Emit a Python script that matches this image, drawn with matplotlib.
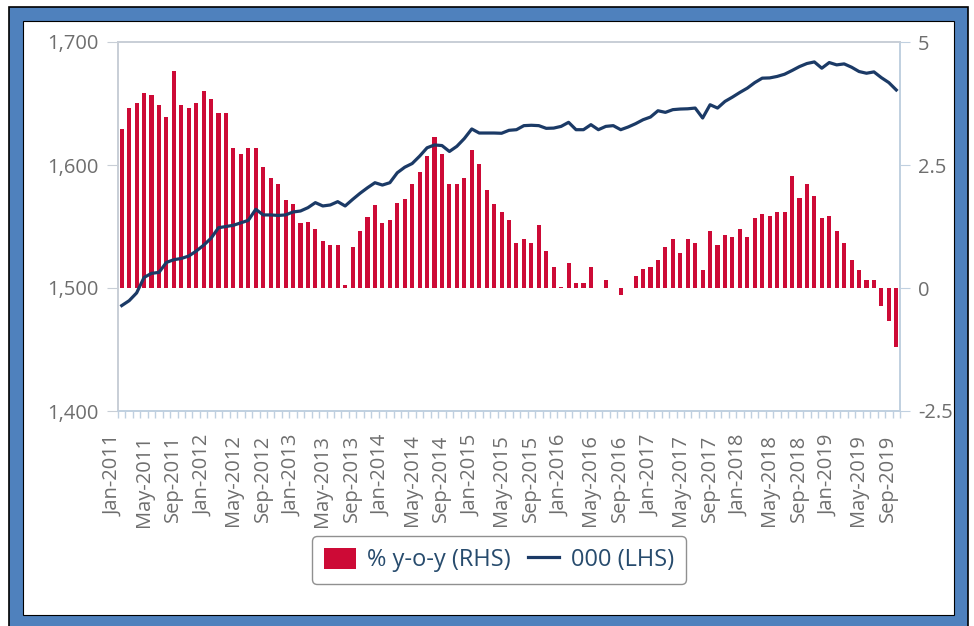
import numpy as np
import pandas as pd
import matplotlib
matplotlib.use('Agg')
import matplotlib.pyplot as plt
from matplotlib.patches import Rectangle
from matplotlib.transforms import ScaledTranslation

months = pd.date_range('2011-01-01', periods=105, freq='MS')
month_labels = [m.strftime('%b-%Y') for m in months]

# % y-o-y (RHS)
yoy = [3.24, 3.65, 3.76, 3.97, 3.92, 3.72, 3.48, 4.41, 3.72, 3.65, 3.76, 4.00, 3.84, 3.56, 3.56, 2.84, 2.72, 2.84, 2.84, 2.45, 2.24,
       2.11, 1.79, 1.71, 1.32, 1.35, 1.20, 0.95, 0.88, 0.88, 0.07, 0.83, 1.16, 1.44, 1.68, 1.32, 1.39, 1.72, 1.80, 2.11, 2.36, 2.68,
       3.07, 2.72, 2.11, 2.11, 2.24, 2.80, 2.52, 1.99, 1.71, 1.55, 1.39, 0.92, 1.00, 0.92, 1.28, 0.76, 0.43, 0.03, 0.51, 0.11, 0.11,
       0.43, 0.00, 0.16, 0.00, -0.14, 0.00, 0.24, 0.39, 0.43, 0.56, 0.83, 1.00, 0.72, 1.00, 0.92, 0.36, 1.16, 0.88, 1.08, 1.03, 1.20,
       1.03, 1.43, 1.51, 1.47, 1.55, 1.55, 2.28, 1.83, 2.11, 1.88, 1.43, 1.47, 1.16, 0.92, 0.56, 0.36, 0.16, 0.16, -0.36, -0.68, -1.19]

# 000 (LHS)
level = [1485.7, 1489.7, 1496, 1508.6, 1511.9, 1512.7, 1520.8, 1523, 1524, 1526, 1530, 1534.8, 1540.5, 1549, 1550, 1551, 1553, 1555, 1564, 1559.4, 1559.4,
         1559, 1559.4, 1561.8, 1562.6, 1565.3, 1569.4, 1566.7, 1567.5, 1570.2, 1566.7, 1572, 1577, 1581.5, 1585.6, 1583.7, 1585.6, 1593.7, 1598.2, 1601.2, 1607.2, 1614,
         1616.3, 1615.8, 1611, 1615.2, 1621.5, 1629.3, 1626, 1626, 1626, 1625.8, 1628.2, 1628.7, 1632, 1632.3, 1632, 1629.8, 1630, 1631.4, 1634.7, 1628.7, 1628.7,
         1632.8, 1628.7, 1631.4, 1632, 1628.7, 1630.9, 1633.6, 1636.8, 1639, 1644.1, 1642.8, 1645, 1645.5, 1645.7, 1646.3, 1638.2, 1649, 1646.3, 1651.7, 1655.2, 1659,
         1662.5, 1667, 1670.6, 1670.8, 1672, 1673.8, 1676.8, 1680, 1682.5, 1683.8, 1678.7, 1683.3, 1681.4, 1682.2, 1679.5, 1676, 1674.6, 1675.7, 1671, 1667, 1661]

plt.rcParams['font.family'] = ['Open Sans', 'DejaVu Sans']

W, H = 974, 626
fig = plt.figure(figsize=(W / 100.0, H / 100.0), dpi=100)

# blue frame around the chart
fig.add_artist(Rectangle((8.5 / W, -5.0 / H), 959.0 / W, (626 - 6.5 + 5) / H, transform=fig.transFigure,
                         facecolor='#4F81BD', edgecolor='black', linewidth=1.2, zorder=-10))
fig.add_artist(Rectangle((22.5 / W, 11.5 / H), 931.0 / W, 593.5 / H, transform=fig.transFigure,
                         facecolor='white', edgecolor='black', linewidth=0.8, zorder=-9))

ax = fig.add_axes([118.0 / W, 1 - 411.0 / H, 782.0 / W, 369.0 / H])
ax2 = ax.twinx()
ax.set_zorder(ax2.get_zorder() + 1)
ax.patch.set_visible(False)
ax2.patch.set_visible(False)

x = np.arange(len(months))
bar_color = '#CD0A36'
line_color = '#1B3A66'
label_color = '#6E6E6E'
axis_color = '#C0D0E0'

bars = ax2.bar(x, yoy, width=0.55, color=bar_color, label='% y-o-y (RHS)')
line, = ax.plot(x, level, color=line_color, linewidth=2.3, label='000 (LHS)')

ax.set_xlim(-0.5, len(months) - 0.5)
ax.set_ylim(1400, 1700)
ax2.set_ylim(-2.5, 5)
ax.set_yticks([1400, 1500, 1600, 1700])
ax.set_yticklabels(['1,400', '1,500', '1,600', '1,700'])
ax2.set_yticks([-2.5, 0, 2.5, 5])
ax2.set_yticklabels(['-2.5', '0', '2.5', '5'])

ax.set_xticks(x[::4])
ax.set_xticklabels(month_labels[::4], rotation=90)
ax.set_xticks(np.arange(-0.5, len(months), 1), minor=True)
ax.tick_params(axis='x', which='major', length=0, pad=17, labelsize=14.5, labelcolor=label_color)
ax.tick_params(axis='x', which='minor', length=5, color=axis_color, width=1)
ax.tick_params(axis='y', length=8, color='#C8CED6', pad=6, labelsize=14.5, labelcolor=label_color)
ax2.tick_params(axis='y', length=7, color=axis_color, pad=6, labelsize=14.5, labelcolor=label_color)
for lab in ax.get_xticklabels():
    lab.set_transform(lab.get_transform() + ScaledTranslation(-8 / 100.0, 0, fig.dpi_scale_trans))

for a in (ax, ax2):
    a.spines['left'].set_color('#C8CED6')
    a.spines['top'].set_color('#C8CED6')
    a.spines['right'].set_color(axis_color)
    a.spines['bottom'].set_color(axis_color)
    for s in a.spines.values():
        s.set_linewidth(1.2)

leg = fig.legend([bars, line], ['% y-o-y (RHS)', '000 (LHS)'], loc='center',
                 bbox_to_anchor=(499.0 / W, 1 - 560.0 / H), ncol=2, fontsize=17,
                 labelcolor='#274B6D', frameon=True, fancybox=True, handlelength=1.35,
                 handleheight=1.0, handletextpad=0.5, columnspacing=0.7, borderpad=0.5,
                 borderaxespad=0.6)
leg.get_frame().set_edgecolor('#909090')
leg.get_frame().set_linewidth(1.0)
leg.get_frame().set_alpha(1)

plt.savefig('out.png', dpi=100)
